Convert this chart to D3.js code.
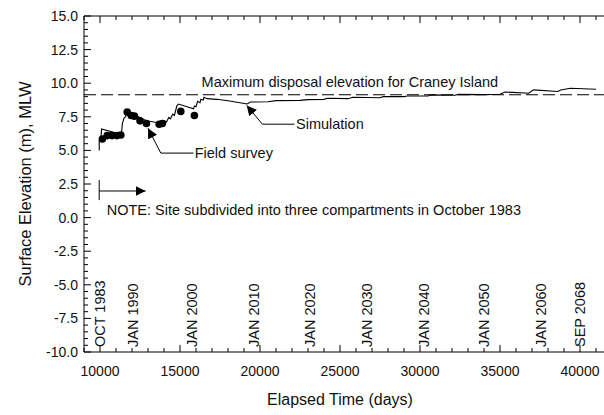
<!DOCTYPE html>
<html><head><meta charset="utf-8">
<script src="https://cdn.jsdelivr.net/npm/d3@7"></script>
<style>
body{margin:0;background:#fff;}
svg{display:block;font-family:Arial,"Liberation Sans",sans-serif;}
</style></head><body>
<svg id="chart" width="604" height="415"></svg>
<script>
// ---- data ----
const simulationDays = [9950,9950,10050,10100,11300,11350,11400,11500,11600,11650,12900,13900,14050,14150,14300,14400,14550,14650,14800,14900,15850,15900,16000,16100,16250,16300,16450,16500,16700,17300,18000,19200,19400,20500,21000,22500,23000,24000,24200,25500,25800,27500,27700,29000,29200,30500,30700,32200,32400,34000,35000,35300,36800,37100,38600,38800,39400,41000];
const simulationElev = [5.0,5.75,5.8,6.6,6.2,6.35,7.0,7.4,7.5,7.95,7.2,7.0,7.2,7.1,7.45,7.35,7.7,7.6,8.3,8.45,8.1,8.3,8.25,8.65,8.55,8.8,8.75,8.95,8.85,8.8,8.7,8.45,8.6,8.62,8.7,8.72,8.78,8.8,8.88,8.85,8.95,8.92,9.0,9.0,9.05,9.05,9.13,9.1,9.17,9.15,9.18,9.35,9.25,9.5,9.38,9.5,9.62,9.55];
const surveyDays = [10150,10450,10750,11050,11300,11700,11950,12150,12500,12900,13700,13900,15050,15900];
const surveyElev = [5.85,6.1,6.1,6.1,6.15,7.85,7.6,7.55,7.2,7.0,6.95,7.0,7.9,7.6];
const maxDisposalElev = 9.14;
const dateLabels = ["OCT 1983","JAN 1990","JAN 2000","JAN 2010","JAN 2020","JAN 2030","JAN 2040","JAN 2050","JAN 2060","SEP 2068"];
const dateLabelDays = [10000,12060,15730,19600,23125,26670,30250,34000,37560,40000];
const xTickValues = [10000,15000,20000,25000,30000,35000,40000];
const yTickValues = [15,12.5,10,7.5,5,2.5,0,-2.5,-5,-7.5,-10];

// ---- layout ----
const svg = d3.select("#chart");
const x = d3.scaleLinear().domain([9000, 42000]).range([84, 612]);
const y = d3.scaleLinear().domain([-10, 15]).range([352, 16]);
const ink = "#000";

const xMinor = d3.range(9000, 42001, 1000);
const yMinor = d3.range(-10, 15.01, 0.5);

const g = svg.append("g");
g.append("line").attr("x1",x(9000)).attr("x2",x(42000)).attr("y1",y(15)).attr("y2",y(15)).attr("stroke",ink);
g.append("line").attr("x1",x(9000)).attr("x2",x(42000)).attr("y1",y(-10)).attr("y2",y(-10)).attr("stroke",ink);
g.append("line").attr("x1",x(9000)).attr("x2",x(9000)).attr("y1",y(15)).attr("y2",y(-10)).attr("stroke",ink);

function isMajorX(d){return d % 5000 === 0;}
function isMajorY(d){return Math.abs(d/2.5 - Math.round(d/2.5))<1e-6;}
g.selectAll(".xtb").data(xMinor).join("line")
  .attr("x1",d=>x(d)).attr("x2",d=>x(d))
  .attr("y1",y(-10)).attr("y2",d=>y(-10)-(isMajorX(d)?7:4)).attr("stroke",ink);
g.selectAll(".xtt").data(xMinor).join("line")
  .attr("x1",d=>x(d)).attr("x2",d=>x(d))
  .attr("y1",y(15)).attr("y2",d=>y(15)+(isMajorX(d)?7:4)).attr("stroke",ink);
g.selectAll(".yt").data(yMinor).join("line")
  .attr("x1",x(9000)).attr("x2",d=>x(9000)+(isMajorY(d)?7:4))
  .attr("y1",d=>y(d)).attr("y2",d=>y(d)).attr("stroke",ink);

g.selectAll(".xl").data(xTickValues).join("text")
  .attr("x",d=>x(d)).attr("y",y(-10)+24)
  .attr("text-anchor","middle").attr("font-size",14).attr("fill","#111")
  .text(d=>d);
g.selectAll(".yl").data(yTickValues).join("text")
  .attr("x",x(9000)-6).attr("y",d=>y(d)).attr("dy","0.35em")
  .attr("text-anchor","end").attr("font-size",14).attr("fill","#111")
  .text(d=>d.toFixed(1));

svg.append("text").attr("x",x(25000)).attr("y",405)
  .attr("text-anchor","middle").attr("font-size",16).attr("fill","#111")
  .text("Elapsed Time (days)");
svg.append("text").attr("transform",`translate(31,${y(2.5)}) rotate(-90)`)
  .attr("text-anchor","middle").attr("font-size",16.5).attr("fill","#111")
  .text("Surface Elevation (m), MLW");

g.append("line").attr("x1",x(9000)).attr("x2",x(42000))
  .attr("y1",y(maxDisposalElev)).attr("y2",y(maxDisposalElev))
  .attr("stroke",ink).attr("stroke-width",1.1).attr("stroke-dasharray","12,5");
svg.append("text").attr("x",x(16350)).attr("y",y(9.14)-8)
  .attr("font-size",14.5).attr("fill","#111")
  .text("Maximum disposal elevation for Craney Island");

const simData = simulationDays.map((d,i)=>[d, simulationElev[i]]);
g.append("path").datum(simData)
  .attr("d", d3.line().x(d=>x(d[0])).y(d=>y(d[1])))
  .attr("fill","none").attr("stroke",ink).attr("stroke-width",1.1);

g.selectAll(".pt").data(surveyDays.map((d,i)=>[d,surveyElev[i]])).join("circle")
  .attr("cx",d=>x(d[0])).attr("cy",d=>y(d[1])).attr("r",3.8).attr("fill",ink);

g.selectAll(".dl").data(dateLabels).join("text")
  .attr("transform",(d,i)=>`translate(${x(dateLabelDays[i])},${y(-10)-5}) rotate(-90)`)
  .attr("dy","0.36em").attr("font-size",14.5).attr("fill","#111")
  .text(d=>d);

const defs = svg.append("defs");
defs.append("marker").attr("id","ah").attr("viewBox","0 0 10 10")
  .attr("refX",10).attr("refY",5).attr("markerWidth",10).attr("markerHeight",10)
  .attr("markerUnits","userSpaceOnUse").attr("orient","auto")
  .append("path").attr("d","M0,0 L10,5 L0,10 Z").attr("fill",ink);

function arrow(pts){
  g.append("path").datum(pts)
   .attr("d", d3.line().x(d=>x(d[0])).y(d=>y(d[1])))
   .attr("fill","none").attr("stroke",ink).attr("stroke-width",1)
   .attr("marker-end","url(#ah)");
}
const simArrow = [[22150,6.95],[20150,6.95],[19170,8.35]];
arrow(simArrow);
svg.append("text").attr("x",x(22250)).attr("y",y(6.95)).attr("dy","0.35em")
  .attr("font-size",14.5).attr("fill","#111").text("Simulation");
const fieldArrow = [[15850,4.8],[13800,4.8],[13000,6.65]];
arrow(fieldArrow);
svg.append("text").attr("x",x(15920)).attr("y",y(4.8)).attr("dy","0.35em")
  .attr("font-size",14.5).attr("fill","#111").text("Field survey");
g.append("line").attr("x1",x(9950)).attr("x2",x(9950)).attr("y1",y(2.8)).attr("y2",y(1.3)).attr("stroke",ink);
arrow([[9950,1.98],[12850,1.98]]);
svg.append("text").attr("x",x(10420)).attr("y",y(0.57)).attr("dy","0.35em")
  .attr("font-size",14.5).attr("fill","#111")
  .text("NOTE: Site subdivided into three compartments in October 1983");
</script>
</body></html>
